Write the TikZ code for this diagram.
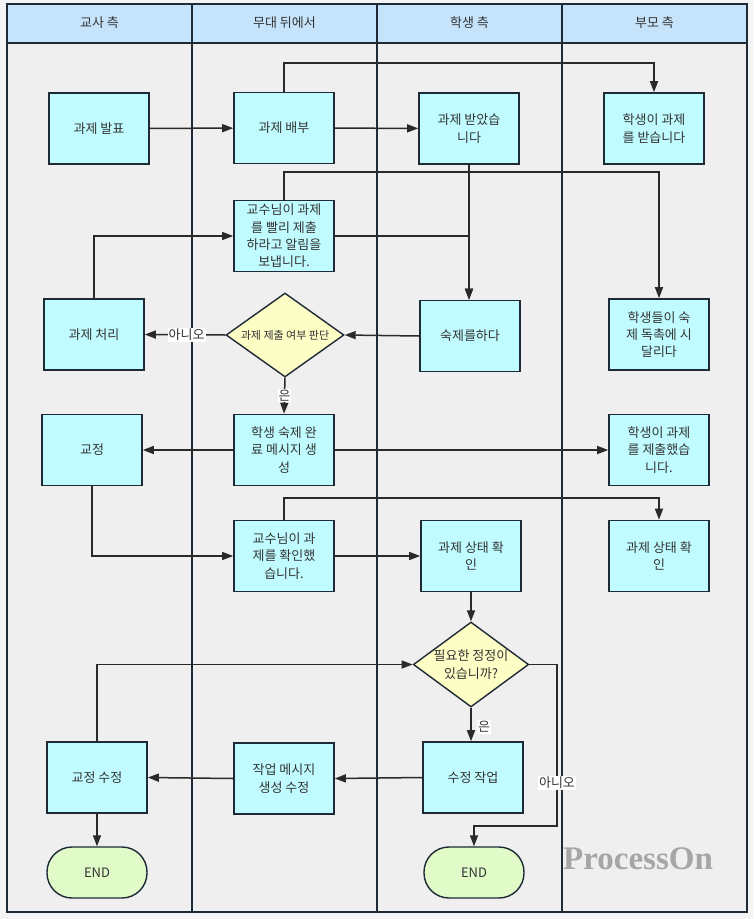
\documentclass[tikz,border=0pt]{standalone}
\usepackage{fontspec}
\setmainfont{Noto Sans CJK KR}
\newfontfamily\wmfont{Liberation Serif}
\usetikzlibrary{arrows.meta,shapes.geometric}
\definecolor{bgout}{HTML}{F4F4F4}
\definecolor{bgin}{HTML}{EFEFEF}
\definecolor{hdr}{HTML}{C5E4FC}
\definecolor{frame}{HTML}{1E2A36}
\definecolor{boxfill}{HTML}{C0FCFF}
\definecolor{decfill}{HTML}{FDFDC6}
\definecolor{endfill}{HTML}{E0FBC8}
\definecolor{ink}{HTML}{2A2A2A}
\definecolor{txt}{HTML}{333333}
\tikzset{
  lane/.style={draw=frame, line width=1.8pt},
  task/.style={draw=frame, line width=1.6pt, fill=boxfill, minimum width=100pt, minimum height=71pt, inner sep=0pt, align=center, text=txt, font=\fontsize{13}{17.3}\selectfont},
  decision/.style={draw=frame, line width=1.4pt, fill=decfill, diamond, aspect=1.4, inner sep=0pt, align=center, text=txt, font=\fontsize{13}{17.3}\selectfont},
  terminal/.style={draw=frame, line width=1.4pt, fill=endfill, rounded corners=25pt, minimum width=100pt, minimum height=51pt, inner sep=0pt, text=txt, font=\fontsize{13}{16}\selectfont},
  hdrtext/.style={text=txt, font=\fontsize{13}{16}\selectfont},
  arr/.style={draw=ink, line width=1.5pt, -{Triangle[length=11pt,width=8pt]}},
  conn/.style={draw=ink, line width=1.5pt},
  lbl/.style={fill=white, inner sep=1pt, text=txt, font=\fontsize{13}{16}\selectfont},
}
\begin{document}
\begin{tikzpicture}[x=1pt, y=-1pt]
\useasboundingbox (0,0) rectangle (753,919);
\fill[bgout] (0,0) rectangle (753,919);
% lanes
\fill[bgin] (7,4) rectangle (747,912);
\fill[hdr] (7,4) rectangle (747,43);
\draw[lane] (7,4) rectangle (747,912);
\draw[lane] (7,43) -- (747,43);
\draw[lane] (192,4) -- (192,912);
\draw[lane] (377,4) -- (377,912);
\draw[lane] (562,4) -- (562,912);
\node[hdrtext] (h1) at (99.5,23) {교사 측};
\node[hdrtext] (h2) at (284.5,23) {무대 뒤에서};
\node[hdrtext] (h3) at (469.5,23) {학생 측};
\node[hdrtext] (h4) at (654.5,23) {부모 측};
% watermark
\node[text=black!35, font=\wmfont\bfseries\fontsize{33}{33}\selectfont, inner sep=0pt] (wm) at (638,859) {ProcessOn};
% nodes
\node[task] (fabu) at (99,128.5) {과제 발표};
\node[task] (baebu) at (284,128) {과제 배부};
\node[task] (recv) at (469,128.5) {과제 받았습\\니다};
\node[task] (precv) at (654,128.5) {학생이 과제\\를 받습니다};
\node[task] (alert) at (284,236) {교수님이 과제\\를 빨리 제출\\하라고 알림을\\보냅니다.};
\node[task] (proc) at (94,334.5) {과제 처리};
\node[decision, minimum width=118pt, minimum height=84pt, font=\fontsize{11}{14}\selectfont] (dec1) at (285,335) {과제 제출 여부 판단};
\node[task] (hw) at (470,336) {숙제를하다};
\node[task] (urge) at (659,334.5) {학생들이 숙\\제 독촉에 시\\달리다};
\node[task] (corr) at (92,450) {교정};
\node[task] (msg) at (284,450) {학생 숙제 완\\료 메시지 생\\성};
\node[task] (subm) at (659,450) {학생이 과제\\를 제출했습\\니다.};
\node[task] (conf) at (284,556) {교수님이 과\\제를 확인했\\습니다.};
\node[task] (stat1) at (471,556) {과제 상태 확\\인};
\node[task] (stat2) at (659,556) {과제 상태 확\\인};
\node[decision, minimum width=110pt, minimum height=85pt] (dec2) at (471,664.5) {필요한 정정이\\있습니까?};
\node[task] (fixw) at (473,777.5) {수정 작업};
\node[task] (msgfix) at (284,778.5) {작업 메시지\\생성 수정};
\node[task] (corrfix) at (97,777.5) {교정 수정};
\node[terminal] (end1) at (97,872.5) {END};
\node[terminal] (end2) at (474,872.5) {END};
\coordinate (bend) at (557,826);
% connectors
\draw[arr] (fabu) -- (baebu);
\draw[arr] (baebu.north) -- (baebu.north |- 0,63) -| (precv.north);
\draw[arr] (baebu) -- (recv);
\draw[arr] (alert.north) -- (alert.north |- 0,172) -| (urge.north);
\draw[arr] (recv.south) -- (recv.south |- hw.north);
\draw[arr] (alert.east) -| (recv.south |- hw.north);
\draw[arr] (proc.north) |- (alert.west);
\draw[arr] (hw.west) -- (dec1.east);
\draw[arr] (dec1.west) -- node[lbl, pos=0.48] (no1) {아니오} (proc.east);
\draw[arr] (dec1.south) -- node[lbl, pos=0.5] (yes1) {은} (msg.north);
\draw[arr] (msg.west) -- (corr.east);
\draw[arr] (msg.east) -- (subm.west);
\draw[arr] (corr.south) |- (conf.west);
\draw[arr] (conf.north) -- (conf.north |- 0,498) -| (stat2.north);
\draw[arr] (conf.east) -- (stat1.west);
\draw[arr] (stat1.south) -- (dec2.north);
\draw[arr] (corrfix.north) |- (dec2.west);
\draw[arr] (dec2.south) -- (dec2.south |- fixw.north);
\node[lbl] (yes2) at (484,727) {은};
\draw[arr] (dec2.east) -| (bend) -| (end2.north);
\node[lbl] (no2) at (557,783) {아니오};
\draw[arr] (fixw.west) -- (msgfix.east);
\draw[arr] (msgfix.west) -- (corrfix.east);
\draw[arr] (corrfix.south) -- (end1.north);
\end{tikzpicture}
\end{document}
